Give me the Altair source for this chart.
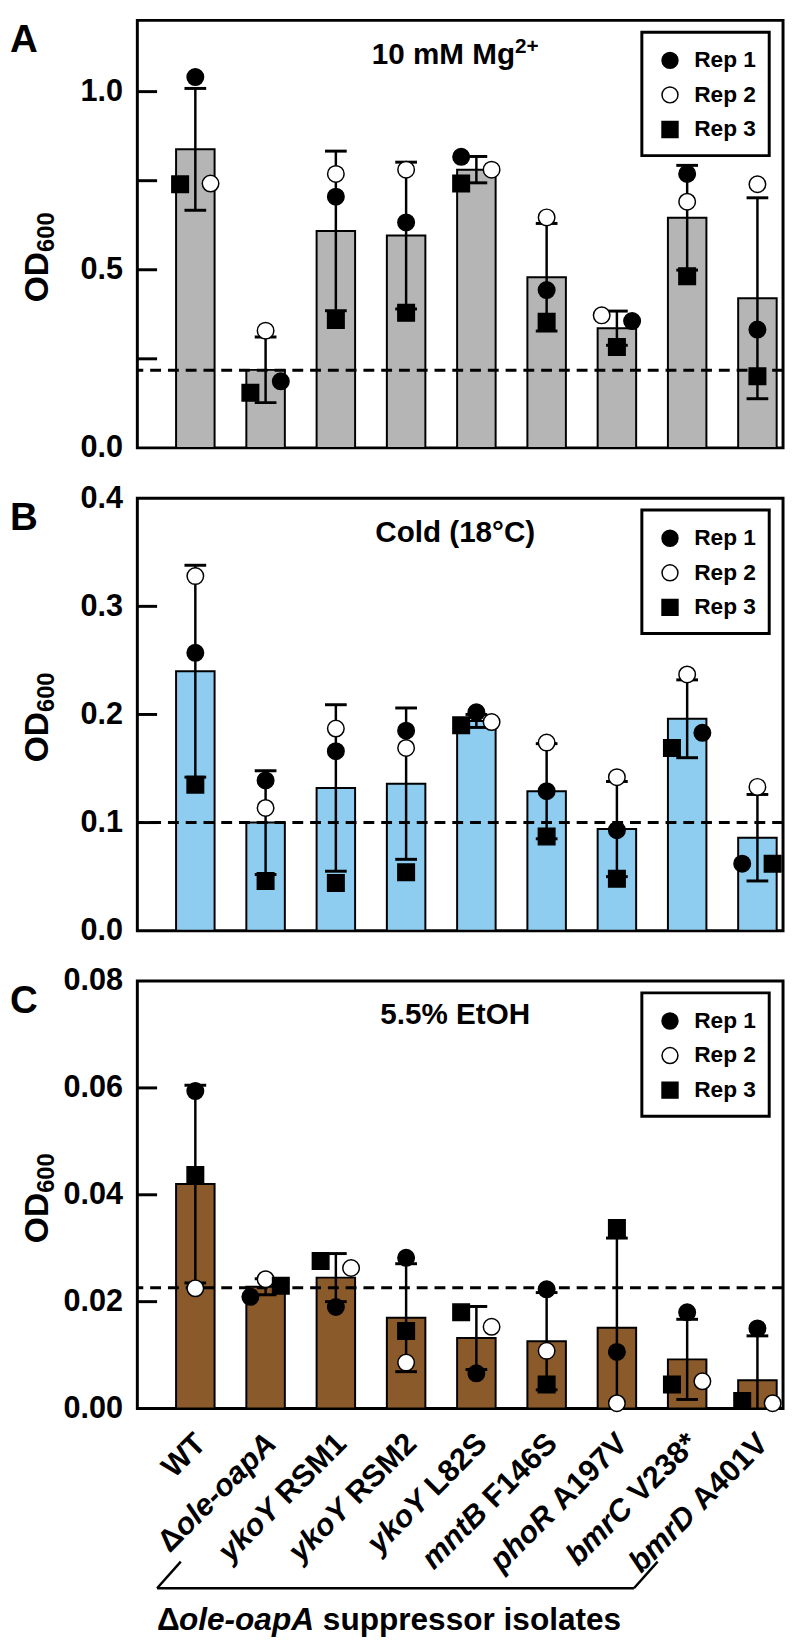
import altair as alt
import pandas as pd

# ---------------- data ----------------
strains = ["WT", "Δole-oapA", "ykoY RSM1", "ykoY RSM2", "ykoY L82S",
           "mntB F146S", "phoR A197V", "bmrC V238*", "bmrD A401V"]
label_prefix = ["WT", "Δ", "", "", "", "", "", "", ""]
label_italic = ["", "ole-oapA", "ykoY", "ykoY", "ykoY", "mntB", "phoR", "bmrC", "bmrD"]
label_suffix = ["", "", "RSM1", "RSM2", "L82S", "F146S", "A197V", "V238*", "A401V"]
reps = ["Rep 1", "Rep 2", "Rep 3"]

# Panel A: 10 mM Mg2+
a_mean = [0.838, 0.219, 0.609, 0.596, 0.781, 0.479, 0.336, 0.646, 0.420]
a_sd = [0.171, 0.092, 0.224, 0.206, 0.037, 0.151, 0.048, 0.147, 0.282]
a_rep1 = [1.041, 0.187, 0.705, 0.633, 0.817, 0.443, 0.356, 0.769, 0.332]
a_rep2 = [0.742, 0.329, 0.769, 0.781, 0.781, 0.647, 0.372, 0.691, 0.740]
a_rep3 = [0.740, 0.155, 0.359, 0.379, 0.742, 0.354, 0.283, 0.482, 0.201]
a_slots = ["CRL", "RCL", "CCC", "CCC", "LRL", "CCC", "RLC", "CCC", "CCC"]
a_cutoff = 0.218

# Panel B: Cold (18°C)
b_mean = [0.240, 0.100, 0.132, 0.136, 0.194, 0.129, 0.094, 0.196, 0.086]
b_sd = [0.098, 0.048, 0.077, 0.070, 0.006, 0.044, 0.044, 0.036, 0.040]
b_rep1 = [0.257, 0.139, 0.166, 0.185, 0.202, 0.129, 0.093, 0.183, 0.062]
b_rep2 = [0.328, 0.1135, 0.187, 0.169, 0.193, 0.174, 0.142, 0.237, 0.133]
b_rep3 = [0.135, 0.046, 0.044, 0.054, 0.190, 0.087, 0.048, 0.169, 0.062]
b_slots = ["CCC", "CCC", "CCC", "CCC", "CRL", "CCC", "CCC", "RCL", "LCR"]
b_cutoff = 0.100

# Panel C: 5.5% EtOH
c_mean = [0.0420, 0.0228, 0.0245, 0.0170, 0.0132, 0.0126, 0.0151, 0.0092, 0.0053]
c_sd = [0.0185, 0.0015, 0.0045, 0.0101, 0.0059, 0.0091, 0.0168, 0.0075, 0.0083]
c_rep1 = [0.0594, 0.0209, 0.0190, 0.0282, 0.0066, 0.0223, 0.0106, 0.0180, 0.0150]
c_rep2 = [0.0225, 0.0242, 0.0263, 0.0086, 0.0153, 0.0108, 0.0010, 0.0051, 0.0010]
c_rep3 = [0.0437, 0.0230, 0.0276, 0.0145, 0.0180, 0.0045, 0.0338, 0.0045, 0.0014]
c_slots = ["CCC", "LCR", "CRL", "CCC", "CRL", "CCC", "CCC", "CRL", "CRL"]
c_cutoff = 0.0226

# ---------------- styling ----------------
FONT = "Liberation Sans"
W = 654
LS = 31  # rotated label font size

# Arial/Liberation Sans Bold advance widths (per 1000 em)
CHAR_W = {' ': 278, '*': 389, '-': 333, '.': 278, '%': 889, '(': 333, ')': 333, '°': 400,
          '+': 584, '0': 556, '1': 556, '2': 556, '3': 556, '4': 556, '5': 556, '6': 556,
          '7': 556, '8': 556, '9': 556, 'A': 722, 'B': 722, 'C': 722, 'D': 722, 'E': 667,
          'F': 611, 'H': 722, 'L': 611, 'M': 833, 'O': 778, 'R': 722, 'S': 667, 'T': 611,
          'V': 667, 'W': 944, 'Y': 667, 'a': 556, 'b': 611, 'd': 611, 'e': 556, 'g': 611,
          'h': 611, 'i': 278, 'k': 556, 'l': 278, 'm': 889, 'n': 611, 'o': 611, 'p': 611,
          'r': 389, 's': 556, 't': 333, 'u': 611, 'y': 556, 'Δ': 690}


def text_width(s, size):
    return sum(CHAR_W.get(ch, 556) for ch in s) * size / 1000.0


x_scale = alt.Scale(domain=strains, paddingInner=0.45, paddingOuter=0.32, align=0.86)
off_scale = alt.Scale(domain=["L", "C", "R"], paddingInner=0, paddingOuter=0.27)
X = alt.X("strain:N", scale=x_scale, axis=None)
one = pd.DataFrame({"k": [0]})


def make_panel(letter, title_parts, mean, sd, r1, r2, r3, slots, color, ymax, label_vals,
               fmt, tick_vals, cutoff, height, title_y, bottom=False):
    df = pd.DataFrame({"strain": strains, "mean": mean, "sd": sd})
    df["hi"] = df["mean"] + df["sd"]
    df["lo"] = (df["mean"] - df["sd"]).clip(lower=0)
    lo_caps = df[df["mean"] - df["sd"] > 0]
    rows = []
    for i, s in enumerate(strains):
        for j, vals in enumerate((r1, r2, r3)):
            rows.append({"strain": s, "rep": reps[j], "value": vals[i], "slot": slots[i][j]})
    pts = pd.DataFrame(rows)

    yscale = alt.Scale(domain=[0, ymax], nice=False, zero=True)
    yaxis = alt.Axis(values=label_vals, format=fmt, ticks=False, domain=False, grid=False,
                     labelFont=FONT, labelFontSize=31, labelFontWeight="bold",
                     labelColor="black", labelPadding=15, labelFlush=False,
                     labelOverlap=False, title=None)

    def Y(field):
        return alt.Y(field, type="quantitative", scale=yscale, axis=yaxis)

    leg = alt.Legend(title=None, orient="none", legendX=511, legendY=12, padding=17,
                     rowPadding=11, symbolSize=260, symbolStrokeWidth=1.5,
                     labelFont=FONT, labelFontSize=23, labelFontWeight="bold",
                     labelColor="black", labelOffset=13)

    bars = alt.Chart(df).mark_bar(fill=color, stroke="black", strokeWidth=2, width=39).encode(
        x=X, y=Y("mean"))
    dash = alt.Chart(pd.DataFrame({"c": [cutoff]})).mark_rule(
        color="black", strokeWidth=3, strokeDash=[11, 7]).encode(y=Y("c"))
    err = alt.Chart(df).mark_rule(color="black", strokeWidth=2.5).encode(
        x=X, y=Y("lo"), y2="hi")
    cap_hi = alt.Chart(df).mark_tick(color="black", size=22, thickness=3, opacity=1).encode(
        x=X, y=Y("hi"))
    cap_lo = alt.Chart(lo_caps).mark_tick(color="black", size=22, thickness=3, opacity=1).encode(
        x=X, y=Y("lo"))
    points = alt.Chart(pts).mark_point(filled=True, size=280, strokeWidth=1.5,
                                       opacity=1).encode(
        x=X,
        xOffset=alt.XOffset("slot:N", scale=off_scale),
        y=Y("value"),
        fill=alt.Fill("rep:N", scale=alt.Scale(domain=reps, range=["black", "white", "black"]),
                      legend=leg),
        stroke=alt.Stroke("rep:N", scale=alt.Scale(domain=reps, range=["black", "black", "black"]),
                          legend=leg),
        shape=alt.Shape("rep:N", scale=alt.Scale(domain=reps, range=["circle", "circle", "square"]),
                        legend=leg),
    )
    ticks = alt.Chart(pd.DataFrame({"t": tick_vals})).mark_rule(
        color="black", strokeWidth=3).encode(y=Y("t"), x=alt.value(0), x2=alt.value(20))
    box = alt.Chart(one).mark_rect(fill="white", fillOpacity=0, stroke="black",
                                   strokeWidth=3).encode(
        x=alt.value(511), x2=alt.value(640), y=alt.value(12), y2=alt.value(137))
    let = alt.Chart(one).mark_text(text=letter, font=FONT, fontSize=39, fontWeight="bold",
                                   align="left", baseline="top", color="black").encode(
        x=alt.value(-129), y=alt.value(1))

    layers = [bars, dash, err, cap_hi, cap_lo, points, ticks, box, let]

    # panel title (with optional superscript part)
    total = sum(text_width(t, fs) for t, fs, _ in title_parts)
    x0 = 322 - total / 2.0
    acc = 0.0
    for t, fs, dy in title_parts:
        layers.append(alt.Chart(one).mark_text(
            text=t, font=FONT, fontSize=fs, fontWeight="bold", align="left",
            baseline="alphabetic", dx=acc, dy=dy, color="black").encode(
            x=alt.value(x0), y=alt.value(44)))
        acc += text_width(t, fs)

    # y axis title OD600 (600 as subscript), rotated
    w_od = text_width("OD", 34)
    w_sub = text_width("600", 24)
    y_start = title_y + (w_od + w_sub) / 2.0
    layers.append(alt.Chart(one).mark_text(
        text="OD", font=FONT, fontSize=34, fontWeight="bold", angle=270, align="left",
        baseline="alphabetic", color="black").encode(x=alt.value(-90), y=alt.value(y_start)))
    layers.append(alt.Chart(one).mark_text(
        text="600", font=FONT, fontSize=24, fontWeight="bold", angle=270, align="left",
        baseline="alphabetic", dx=w_od, dy=6, color="black").encode(
        x=alt.value(-90), y=alt.value(y_start)))

    if bottom:
        sx = 6.0
        for s, pre, ita, suf in zip(strains, label_prefix, label_italic, label_suffix):
            parts = [(pre, "normal"), (ita, "italic"), (suf, "normal")]
            parts = [p for p in parts if p[0]]
            for k, (txt, style) in enumerate(parts):
                after = parts[k + 1:]
                w = sum(text_width(p[0], LS) for p in after)
                if after and style == "italic" and txt != "ole-oapA":
                    w += text_width(" ", LS)
                layers.append(
                    alt.Chart(pd.DataFrame({"strain": [s]})).mark_text(
                        text=txt, angle=315, align="right", baseline="middle",
                        dx=-w + 0.707 * sx, dy=0.707 * sx, font=FONT, fontSize=LS,
                        fontWeight="bold", fontStyle=style, color="black").encode(
                        x=X, y=alt.value(height + 31)))
        # bracket
        seg = [(44, height + 155, 20, height + 182),
               (20, height + 182, 503, height + 182),
               (503, height + 182, 527, height + 155)]
        for x1, y1, x2, y2 in seg:
            layers.append(alt.Chart(one).mark_rule(color="black", strokeWidth=2.5).encode(
                x=alt.value(x1), y=alt.value(y1), x2=alt.value(x2), y2=alt.value(y2)))
        # bottom caption with mixed italic
        CS = 32
        cap_parts = [("Δ", "normal"), ("ole-oapA", "italic"), ("suppressor isolates", "normal")]
        offs = [0, text_width("Δ", CS),
                text_width("Δ", CS) + text_width("ole-oapA", CS) + text_width(" ", CS)]
        for (txt, style), o in zip(cap_parts, offs):
            layers.append(alt.Chart(one).mark_text(
                text=txt, align="left", baseline="alphabetic", dx=o, font=FONT,
                fontSize=CS, fontWeight="bold", fontStyle=style, color="black").encode(
                x=alt.value(20), y=alt.value(height + 224)))

    return alt.layer(*layers).properties(width=W, height=height)


pA = make_panel("A", [("10 mM Mg", 30, 0), ("2+", 21, -11)], a_mean, a_sd, a_rep1, a_rep2,
                a_rep3, a_slots, "#b5b5b5", 1.2, [0.0, 0.5, 1.0], ".1f",
                [0.25, 0.5, 0.75, 1.0], a_cutoff, 433, 240)
pB = make_panel("B", [("Cold (18°C)", 30, 0)], b_mean, b_sd, b_rep1, b_rep2, b_rep3,
                b_slots, "#8ecdf0", 0.4, [0.0, 0.1, 0.2, 0.3, 0.4], ".1f",
                [0.1, 0.2, 0.3], b_cutoff, 438, 222)
pC = make_panel("C", [("5.5% EtOH", 30, 0)], c_mean, c_sd, c_rep1, c_rep2, c_rep3,
                c_slots, "#8b5a2b", 0.08, [0.0, 0.02, 0.04, 0.06, 0.08], ".2f",
                [0.02, 0.04, 0.06], c_cutoff, 433, 220, bottom=True)

chart = alt.vconcat(pA, pB, pC, spacing=51, bounds="flush").resolve_scale(
    fill="independent", shape="independent", stroke="independent"
).configure_view(stroke="black", strokeWidth=3).properties(
    padding={"left": 0, "top": 0, "right": 0, "bottom": 0}
)

chart.save("out.html", embed_options={"renderer": "svg", "actions": False})
